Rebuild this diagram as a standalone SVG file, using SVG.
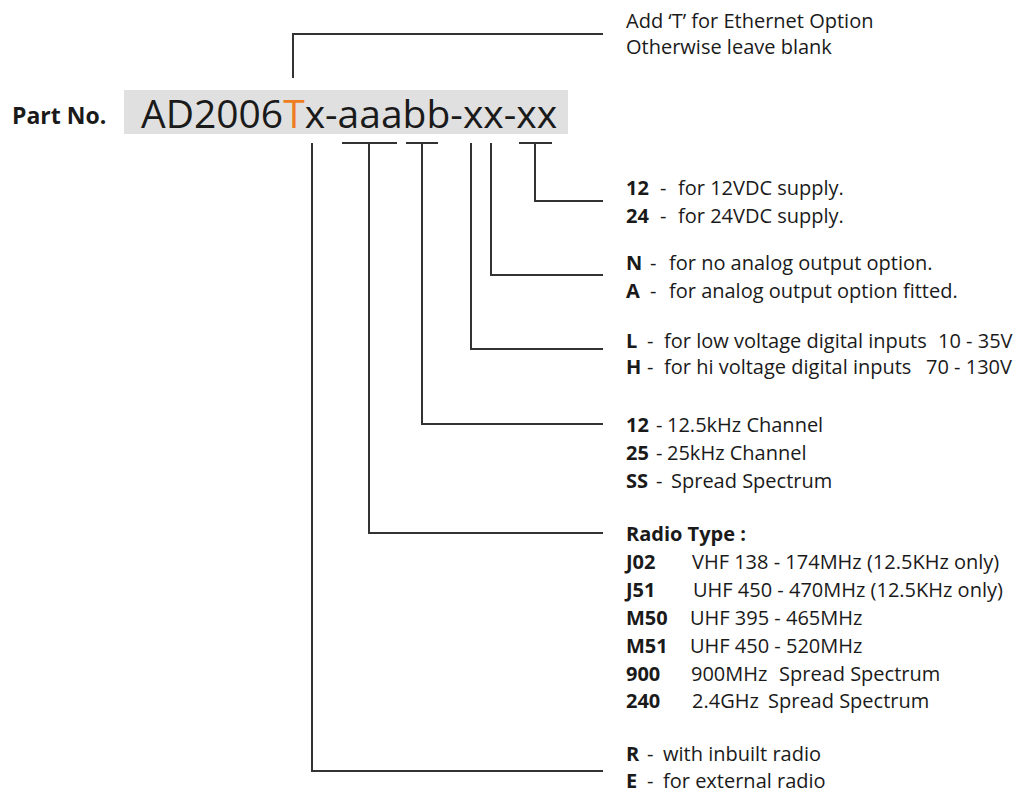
<svg xmlns="http://www.w3.org/2000/svg" width="1016" height="794" viewBox="0 0 1016 794">
<style>
.t{font-family:"Open Sans","Liberation Sans",sans-serif;font-size:20px;fill:#1a1a1a}
.b{font-weight:bold}
.c{fill:none;stroke:#333;stroke-width:2}
</style>
<rect width="1016" height="794" fill="#fff"/>
<g id="partno">
<text x="12" y="124" class="t b" style="font-size:23px">Part No.</text>
<rect x="124" y="90" width="444" height="44" fill="#e0e0e0"/>
<text x="141" y="128" class="t" style="font-size:39px">AD2006<tspan fill="#ee7d22">T</tspan>x-aaabb-xx-xx</text>
</g>
<g id="connectors" class="c">
<path d="M293 78V34H603"/>
<path d="M519 143H552M535 143V201H603"/>
<path d="M491 143V275H603"/>
<path d="M471 143V349H603"/>
<path d="M406 143H438M422 143V424H603"/>
<path d="M342 143H397M369 143V533H603"/>
<path d="M312 143V771H603"/>
</g>
<g id="ethernet">
<text x="626" y="28" class="t">Add ‘T’ for Ethernet Option</text>
<text x="626" y="54" class="t">Otherwise leave blank</text>
</g>
<g id="supply">
<text x="626" y="195" class="t"><tspan class="b">12</tspan><tspan x="660">-</tspan><tspan x="678">for 12VDC supply.</tspan></text>
<text x="626" y="223" class="t"><tspan class="b">24</tspan><tspan x="660">-</tspan><tspan x="678">for 24VDC supply.</tspan></text>
</g>
<g id="analog">
<text x="626" y="270" class="t"><tspan class="b">N</tspan><tspan x="650">-</tspan><tspan x="669">for no analog output option.</tspan></text>
<text x="626" y="298" class="t"><tspan class="b">A</tspan><tspan x="650">-</tspan><tspan x="669">for analog output option fitted.</tspan></text>
</g>
<g id="digital">
<text x="626" y="348" class="t"><tspan class="b">L</tspan><tspan x="647">-</tspan><tspan x="664">for low voltage digital inputs</tspan><tspan x="938">10 - 35V</tspan></text>
<text x="626" y="374" class="t"><tspan class="b">H</tspan><tspan x="647">-</tspan><tspan x="664">for hi voltage digital inputs</tspan><tspan x="926">70 - 130V</tspan></text>
</g>
<g id="channel">
<text x="626" y="432" class="t"><tspan class="b">12</tspan><tspan x="656">-</tspan><tspan x="667">12.5kHz Channel</tspan></text>
<text x="626" y="460" class="t"><tspan class="b">25</tspan><tspan x="656">-</tspan><tspan x="667">25kHz Channel</tspan></text>
<text x="626" y="488" class="t"><tspan class="b">SS</tspan><tspan x="656">-</tspan><tspan x="671">Spread Spectrum</tspan></text>
</g>
<g id="radio">
<text x="626" y="541" class="t b">Radio Type :</text>
<text x="626" y="569" class="t"><tspan class="b">J02</tspan><tspan x="692">VHF 138 - 174MHz (12.5KHz only)</tspan></text>
<text x="626" y="597" class="t"><tspan class="b">J51</tspan><tspan x="693">UHF 450 - 470MHz (12.5KHz only)</tspan></text>
<text x="626" y="625" class="t"><tspan class="b">M50</tspan><tspan x="690">UHF 395 - 465MHz</tspan></text>
<text x="626" y="653" class="t"><tspan class="b">M51</tspan><tspan x="690">UHF 450 - 520MHz</tspan></text>
<text x="626" y="681" class="t"><tspan class="b">900</tspan><tspan x="691">900MHz</tspan><tspan x="779">Spread Spectrum</tspan></text>
<text x="626" y="708" class="t"><tspan class="b">240</tspan><tspan x="692">2.4GHz</tspan><tspan x="768">Spread Spectrum</tspan></text>
</g>
<g id="radiofit">
<text x="626" y="761" class="t"><tspan class="b">R</tspan><tspan x="647">-</tspan><tspan x="663">with inbuilt radio</tspan></text>
<text x="626" y="788" class="t"><tspan class="b">E</tspan><tspan x="647">-</tspan><tspan x="663">for external radio</tspan></text>
</g>
</svg>
